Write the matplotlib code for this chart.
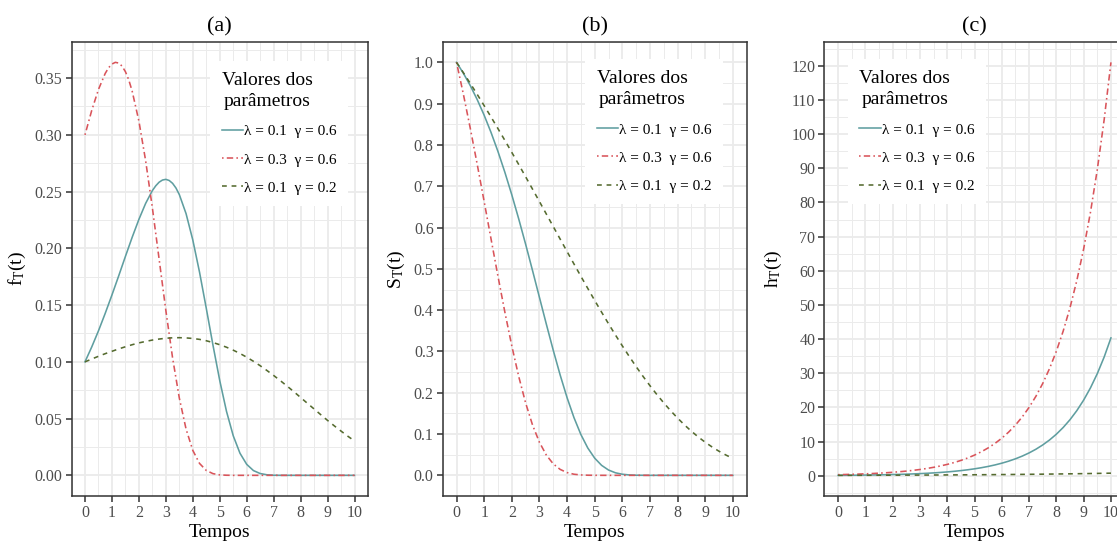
import numpy as np
import matplotlib
matplotlib.use("Agg")
import matplotlib.pyplot as plt
from matplotlib.ticker import MultipleLocator, FormatStrFormatter

plt.rcParams["font.family"] = ["Liberation Serif", "DejaVu Serif"]
plt.rcParams["mathtext.fontset"] = "custom"
plt.rcParams["mathtext.rm"] = "Liberation Serif"

# tempos de 0 a 10, passo 0.25
tempos = np.arange(0, 10.01, 0.25)

labels = ["λ = 0.1  γ = 0.6", "λ = 0.3  γ = 0.6", "λ = 0.1  γ = 0.2"]
titles = ["(a)", "(b)", "(c)"]
ylabels = [r"$\mathregular{f_T(t)}$", r"$\mathregular{S_T(t)}$", r"$\mathregular{h_T(t)}$"]

# densidade
f_1 = [0.1000, 0.1131, 0.1273, 0.1427, 0.1589, 0.1757, 0.1929, 0.2097, 0.2255, 0.2396,
       0.2509, 0.2583, 0.2608, 0.2573, 0.2474, 0.2306, 0.2074, 0.1790, 0.1472, 0.1145,
       0.0835, 0.0564, 0.0349, 0.0195, 0.0097, 0.0042, 0.0016, 0.0005, 0.0001, 0.0,
       0.0, 0.0, 0.0, 0.0, 0.0, 0.0, 0.0, 0.0, 0.0, 0.0, 0.0]
f_2 = [0.3000, 0.3215, 0.3400, 0.3541, 0.3624, 0.3633, 0.3557, 0.3386, 0.3122, 0.2773,
       0.2358, 0.1906, 0.1453, 0.1035, 0.0681, 0.0408, 0.0220, 0.0105, 0.0043, 0.0015,
       0.0004, 0.0001, 0.0, 0.0, 0.0, 0.0, 0.0, 0.0, 0.0, 0.0,
       0.0, 0.0, 0.0, 0.0, 0.0, 0.0, 0.0, 0.0, 0.0, 0.0, 0.0]
f_3 = [0.1000, 0.1025, 0.1049, 0.1072, 0.1093, 0.1114, 0.1133, 0.1151, 0.1167, 0.1180,
       0.1192, 0.1201, 0.1208, 0.1212, 0.1213, 0.1211, 0.1206, 0.1198, 0.1186, 0.1170,
       0.1151, 0.1129, 0.1103, 0.1074, 0.1041, 0.1005, 0.0966, 0.0924, 0.0880, 0.0834,
       0.0786, 0.0737, 0.0686, 0.0635, 0.0585, 0.0534, 0.0484, 0.0436, 0.0390, 0.0345, 0.0303]

# pontos extras perto dos picos
tempos_pico_1 = [2.625, 2.875, 3.125, 3.375]
f_1_pico = [0.2551, 0.2602, 0.2598, 0.2532]
tempos_pico_2 = [0.875, 1.125, 1.375, 1.625]
f_2_pico = [0.3591, 0.3639, 0.3606, 0.3484]

# sobrevivencia
s_1 = [1.0000, 0.9734, 0.9434, 0.9096, 0.8720, 0.8301, 0.7841, 0.7337, 0.6793, 0.6211,
       0.5598, 0.4960, 0.4310, 0.3661, 0.3029, 0.2430, 0.1882, 0.1398, 0.0989, 0.0662,
       0.0416, 0.0242, 0.0129, 0.0062, 0.0027, 0.0010, 0.0003, 0.0001, 0.0, 0.0,
       0.0, 0.0, 0.0, 0.0, 0.0, 0.0, 0.0, 0.0, 0.0, 0.0, 0.0]
s_2 = [1.0000, 0.9223, 0.8395, 0.7527, 0.6630, 0.5721, 0.4820, 0.3950, 0.3135, 0.2396,
       0.1754, 0.1220, 0.0801, 0.0491, 0.0278, 0.0144, 0.0067, 0.0027, 0.0010, 0.0003,
       0.0001, 0.0, 0.0, 0.0, 0.0, 0.0, 0.0, 0.0, 0.0, 0.0,
       0.0, 0.0, 0.0, 0.0, 0.0, 0.0, 0.0, 0.0, 0.0, 0.0, 0.0]
s_3 = [1.0000, 0.9747, 0.9488, 0.9223, 0.8952, 0.8676, 0.8395, 0.8110, 0.7820, 0.7527,
       0.7230, 0.6931, 0.6630, 0.6327, 0.6024, 0.5721, 0.5419, 0.5118, 0.4820, 0.4526,
       0.4235, 0.3950, 0.3671, 0.3399, 0.3135, 0.2879, 0.2632, 0.2396, 0.2171, 0.1956,
       0.1754, 0.1563, 0.1386, 0.1220, 0.1068, 0.0928, 0.0801, 0.0686, 0.0583, 0.0491, 0.0410]

# risco
h_1 = [0.100, 0.116, 0.135, 0.157, 0.182, 0.212, 0.246, 0.286, 0.332, 0.386,
       0.448, 0.521, 0.605, 0.703, 0.817, 0.949, 1.102, 1.281, 1.488, 1.729,
       2.009, 2.334, 2.711, 3.150, 3.660, 4.252, 4.940, 5.740, 6.669, 7.748,
       9.002, 10.459, 12.151, 14.118, 16.402, 19.057, 22.141, 25.724, 29.887, 34.723, 40.343]
h_2 = [0.300, 0.349, 0.405, 0.470, 0.547, 0.635, 0.738, 0.857, 0.996, 1.157,
       1.345, 1.562, 1.815, 2.109, 2.450, 2.846, 3.307, 3.842, 4.464, 5.186,
       6.026, 7.001, 8.134, 9.450, 10.980, 12.756, 14.821, 17.219, 20.006, 23.244,
       27.005, 31.376, 36.453, 42.353, 49.207, 57.170, 66.422, 77.171, 89.660, 104.170, 121.029]
h_3 = [0.100, 0.105, 0.111, 0.116, 0.122, 0.128, 0.135, 0.142, 0.149, 0.157,
       0.165, 0.173, 0.182, 0.192, 0.201, 0.212, 0.223, 0.234, 0.246, 0.259,
       0.272, 0.286, 0.300, 0.316, 0.332, 0.349, 0.367, 0.386, 0.406, 0.426,
       0.448, 0.471, 0.495, 0.521, 0.547, 0.575, 0.605, 0.636, 0.669, 0.703, 0.739]


def junta(t_extra, y_base, y_extra):
    x = np.concatenate([tempos, t_extra])
    y = np.concatenate([y_base, y_extra])
    ordem = np.argsort(x)
    return x[ordem], y[ordem]


panels = [
    [junta(tempos_pico_1, f_1, f_1_pico), junta(tempos_pico_2, f_2, f_2_pico), (tempos, f_3)],
    [(tempos, s_1), (tempos, s_2), (tempos, s_3)],
    [(tempos, h_1), (tempos, h_2), (tempos, h_3)],
]

colors = ["#5F9EA0", "#D9545A", "#556B2F"]
dashes = [None, (1, 2, 4, 2), (3, 3)]

fig = plt.figure(figsize=(11.17, 5.41), dpi=100)
W, H = 1117.0, 541.0
# posicoes dos paineis em pixels (esquerda, direita)
boxes = [(71.5, 368.0), (442.7, 746.7), (824.4, 1124.6)]
top, bottom = 41.7, 496.0

yfmt = ["%.2f", "%.1f", "%.0f"]
ymajor = [0.05, 0.1, 10]
leg_loc = [("upper right", (0.9325, 0.958)), ("upper right", (0.922, 0.962)),
           ("upper left", (0.0786, 0.962))]

for i, (x0, x1) in enumerate(boxes):
    ax = fig.add_axes([x0 / W, (H - bottom) / H, (x1 - x0) / W, (bottom - top) / H])
    for j, (x, y) in enumerate(panels[i]):
        line, = ax.plot(x, y, color=colors[j], lw=1.15, label=labels[j])
        if dashes[j] is not None:
            line.set_dashes(dashes[j])
    ax.margins(x=0.05, y=0.05)

    ax.xaxis.set_major_locator(MultipleLocator(1))
    ax.xaxis.set_minor_locator(MultipleLocator(0.5))
    ax.yaxis.set_major_locator(MultipleLocator(ymajor[i]))
    ax.yaxis.set_minor_locator(MultipleLocator(ymajor[i] / 2))
    ax.yaxis.set_major_formatter(FormatStrFormatter(yfmt[i]))

    ax.grid(which="major", color="#EBEBEB", lw=1.3)
    ax.grid(which="minor", color="#EBEBEB", lw=0.7)
    ax.set_axisbelow(True)
    for sp in ax.spines.values():
        sp.set_color("#333333")
        sp.set_linewidth(1.1)
    ax.tick_params(which="major", length=4, width=1.1, color="#333333",
                   labelcolor="#4D4D4D", labelsize=11.5, pad=2.5)
    ax.tick_params(which="minor", length=0)

    ax.set_title(titles[i], fontsize=16, pad=7)
    ax.set_xlabel("Tempos", fontsize=14, labelpad=2)
    ax.set_ylabel(ylabels[i], fontsize=14, labelpad=5)

    loc, anchor = leg_loc[i]
    leg = ax.legend(loc=loc, bbox_to_anchor=anchor, fontsize=11,
                    title="Valores dos\nparâmetros", title_fontsize=14,
                    frameon=True, fancybox=False, framealpha=1, edgecolor="white",
                    handlelength=1.4, handletextpad=0.05, labelspacing=0.95,
                    borderpad=0.75, borderaxespad=0)
    leg.get_frame().set_linewidth(0)
    leg._legend_box.align = "left"
    leg.get_title().set_multialignment("center")
    leg.get_title().set_linespacing(1.3)

fig.savefig("out.png", dpi=100)
